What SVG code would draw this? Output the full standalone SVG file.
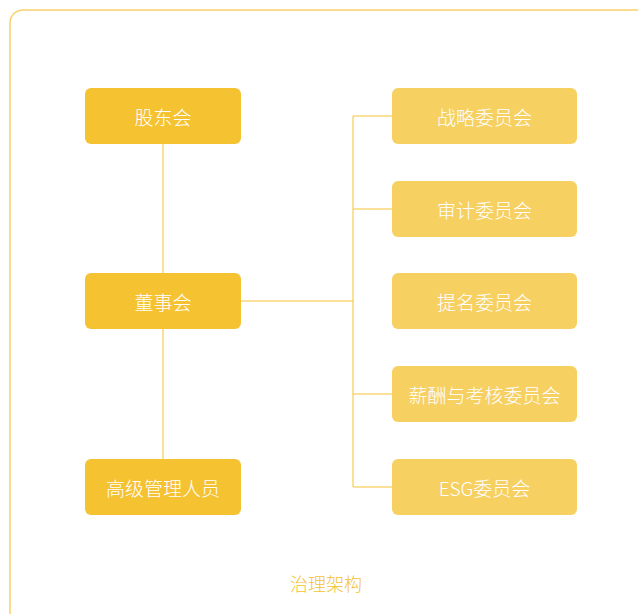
<svg xmlns="http://www.w3.org/2000/svg" width="638" height="614" viewBox="0 0 638 614">
<style>
.frame{fill:none;stroke:#F8D26A;stroke-width:1.5}
.n1{fill:#F5C232}
.n2{fill:#F7D062}
.t{font-family:"Noto Sans CJK SC","Liberation Sans",sans-serif;font-size:19px;font-weight:300;fill:#FFFFFF;text-anchor:middle;dominant-baseline:central}
.c{stroke:#F5C232;stroke-width:1;fill:none}
.cap{font-family:"Noto Sans CJK SC","Liberation Sans",sans-serif;font-size:18px;font-weight:300;fill:#F5C232;text-anchor:middle;dominant-baseline:central}
</style>
<rect width="638" height="614" fill="#FFFFFF"/>
<rect class="frame" x="10" y="10" width="640" height="620" rx="13"/>
<g id="connectors">
<line class="c" x1="163" y1="144" x2="163" y2="459"/>
<line class="c" x1="241" y1="301" x2="353" y2="301"/>
<line class="c" x1="353" y1="116" x2="353" y2="487"/>
<line class="c" x1="353" y1="116" x2="392" y2="116"/>
<line class="c" x1="353" y1="209" x2="392" y2="209"/>
<line class="c" x1="353" y1="394" x2="392" y2="394"/>
<line class="c" x1="353" y1="487" x2="392" y2="487"/>
</g>
<g id="gudonghui"><rect class="n1" x="85" y="88" width="156" height="56" rx="6"/><text class="t" x="163" y="116">股东会</text></g>
<g id="dongshihui"><rect class="n1" x="85" y="273" width="156" height="56" rx="6"/><text class="t" x="163" y="301">董事会</text></g>
<g id="gaoji"><rect class="n1" x="85" y="459" width="156" height="56" rx="6"/><text class="t" x="163" y="487">高级管理人员</text></g>
<g id="zhanlue"><rect class="n2" x="392" y="88" width="185" height="56" rx="6"/><text class="t" x="484.5" y="116">战略委员会</text></g>
<g id="shenji"><rect class="n2" x="392" y="181" width="185" height="56" rx="6"/><text class="t" x="484.5" y="209">审计委员会</text></g>
<g id="timing"><rect class="n2" x="392" y="273" width="185" height="56" rx="6"/><text class="t" x="484.5" y="301">提名委员会</text></g>
<g id="xinchou"><rect class="n2" x="392" y="366" width="185" height="56" rx="6"/><text class="t" x="484.5" y="394">薪酬与考核委员会</text></g>
<g id="esg"><rect class="n2" x="392" y="459" width="185" height="56" rx="6"/><text class="t" x="484.5" y="487">ESG委员会</text></g>
<text class="cap" x="326" y="583">治理架构</text>
</svg>
